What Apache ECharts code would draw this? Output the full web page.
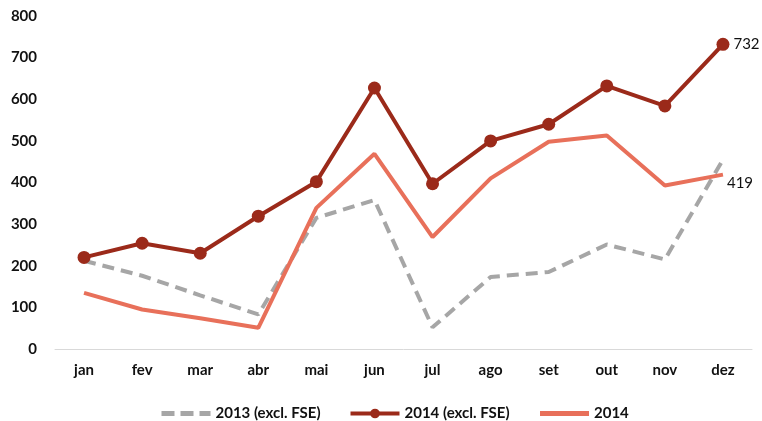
<!DOCTYPE html>
<html>
<head>
<meta charset="utf-8">
<script src="https://cdn.jsdelivr.net/npm/echarts@6/dist/echarts.min.js"></script>
<style>
  html, body { margin: 0; padding: 0; background: #fff; }
  #chart { width: 762px; height: 421px; }
</style>
</head>
<body>
<div id="chart"></div>
<script>
// Monthly categories (Portuguese abbreviations)
const months = ['jan', 'fev', 'mar', 'abr', 'mai', 'jun', 'jul', 'ago', 'set', 'out', 'nov', 'dez'];

// Series values
const series2013ExclFSE = [212, 176, 129, 83, 315, 358, 52, 173, 185, 251, 215, 455];
const series2014ExclFSE = [220, 254, 230, 319, 402, 627, 397, 500, 540, 632, 584, 732];
const series2014 = [135, 95, 74, 51, 339, 469, 269, 410, 498, 513, 393, 419];

// Series names
const seriesNames = ['2013 (excl. FSE)', '2014 (excl. FSE)', '2014'];

const fontFamily = 'Lato, "Open Sans", sans-serif';
const lastIdx = months.length - 1;

const valueLabelStyle = { color: '#111', fontSize: 15, fontFamily: fontFamily };

// Only the final point of the marker series carries a value label
const series2014ExclFSEData = series2014ExclFSE.map((v, i) => i === lastIdx
  ? { value: v, label: Object.assign({ show: true, position: 'right', distance: 4, formatter: '{c}' }, valueLabelStyle) }
  : v);

const chart = echarts.init(document.getElementById('chart'), null, { renderer: 'canvas' });

chart.setOption({
  animation: false,
  backgroundColor: '#fff',
  grid: { left: 55, right: 10, top: 16, bottom: 72, containLabel: false },
  legend: {
    top: 401,
    left: 154,
    itemWidth: 49,
    itemHeight: 12,
    itemGap: 28,
    textStyle: { fontFamily: fontFamily, fontWeight: 'bold', fontSize: 15, color: '#111' },
    data: [
      { name: seriesNames[0], itemStyle: { opacity: 0 }, lineStyle: { type: [13, 6], width: 5 } },
      { name: seriesNames[1], lineStyle: { width: 4 } },
      { name: seriesNames[2], itemStyle: { opacity: 0 }, lineStyle: { width: 5 } }
    ]
  },
  xAxis: {
    type: 'category',
    data: months,
    boundaryGap: true,
    axisLine: { show: true, lineStyle: { color: '#d9d9d9', width: 1 } },
    axisTick: { show: false },
    axisLabel: { fontFamily: fontFamily, fontWeight: 'bold', fontSize: 15, color: '#111', margin: 14 }
  },
  yAxis: {
    type: 'value',
    min: 0,
    max: 800,
    interval: 100,
    axisLine: { show: false },
    axisTick: { show: false },
    splitLine: { show: false },
    axisLabel: { fontFamily: fontFamily, fontWeight: 'bold', fontSize: 15, color: '#111', margin: 18 }
  },
  series: [
    {
      name: seriesNames[0],
      type: 'line',
      data: series2013ExclFSE,
      symbol: 'none',
      z: 1,
      lineStyle: { color: '#a6a6a6', width: 4, type: [12, 7] },
      itemStyle: { color: '#a6a6a6' }
    },
    {
      name: seriesNames[2],
      type: 'line',
      data: series2014,
      symbol: 'none',
      z: 2,
      lineStyle: { color: '#e8705a', width: 4 },
      itemStyle: { color: '#e8705a' },
      endLabel: Object.assign({ show: true, formatter: '{c}', distance: 4, offset: [0, 9] }, valueLabelStyle)
    },
    {
      name: seriesNames[1],
      type: 'line',
      data: series2014ExclFSEData,
      symbol: 'circle',
      symbolSize: 13,
      z: 3,
      lineStyle: { color: '#9b2a1a', width: 4 },
      itemStyle: { color: '#9b2a1a' }
    }
  ]
});
</script>
</body>
</html>
